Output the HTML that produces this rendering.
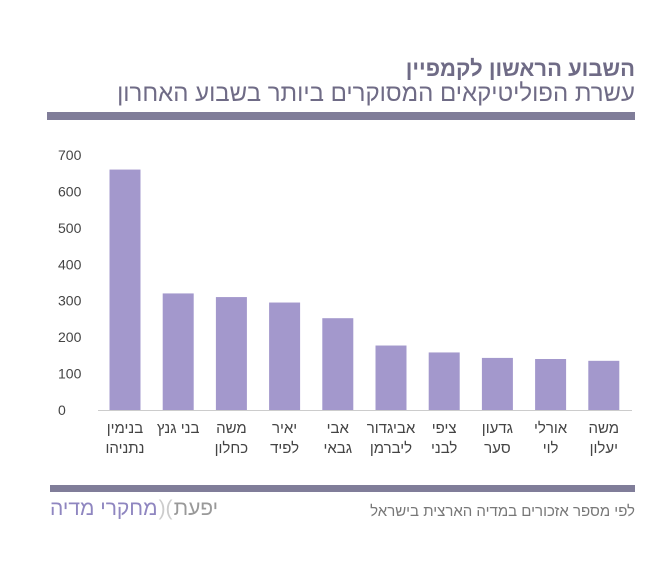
<!DOCTYPE html>
<html><head><meta charset="utf-8"><style>
body{margin:0;background:#fff;width:672px;height:567px;overflow:hidden;font-family:"Liberation Sans","Noto Sans CJK SC",sans-serif;}
.abs{position:absolute;}
</style></head><body>
<div class="abs" style="right:37px;top:56px;font-size:22px;font-weight:bold;color:#6f6b86;direction:rtl;">השבוע הראשון לקמפיין</div>
<div class="abs" style="right:37px;top:80px;font-size:24px;color:#6f6b86;direction:rtl;">עשרת הפוליטיקאים המסוקרים ביותר בשבוע האחרון</div>
<div class="abs" style="left:47px;top:112px;width:588px;height:8px;background:#807d99;"></div>
<svg class="abs" style="left:0;top:0" width="672" height="567">
<g id="g"></g></svg>
<div class="abs" style="left:50px;top:485px;width:585px;height:7px;background:#807d99;"></div>
<div class="abs" style="right:37px;top:503px;font-size:15px;color:#777;direction:rtl;">לפי מספר אזכורים במדיה הארצית בישראל</div>
<div class="abs" style="left:50px;top:497px;font-size:21px;display:flex;direction:ltr;white-space:nowrap;"><span style="color:#8f86c0;direction:rtl">מחקרי מדיה</span><span style="color:#ccc;margin:0 1px">)(</span><span style="color:#999;direction:rtl">יפעת</span></div>
<script>
const categories=[["בנימין","נתניהו"],["בני גנץ",""],["משה","כחלון"],["יאיר","לפיד"],["אבי","גבאי"],["אביגדור","ליברמן"],["ציפי","לבני"],["גדעון","סער"],["אורלי","לוי"],["משה","יעלון"]];
const values=[660,320,310,295,252,177,158,143,140,135];
const ticks=[0,100,200,300,400,500,600,700];
const NS="http://www.w3.org/2000/svg",g=document.getElementById('g');
const y=v=>410-v*(255/700);
const x=i=>125+i*53.2;
function mk(t,a){const e=document.createElementNS(NS,t);for(const k in a)e.setAttribute(k,a[k]);g.appendChild(e);return e;}
ticks.forEach(t=>{const e=mk('text',{x:58,y:y(t)+5,'text-anchor':'start','font-size':14,fill:'#444'});e.textContent=t;

});
const ax=mk('line',{x1:98,x2:632,y1:410.5,y2:410.5,stroke:'#ccc'});


values.forEach((v,i)=>{const r=mk('rect',{x:x(i)-15.5,y:y(v),width:31,height:410-y(v),fill:'#a398cc'});


categories[i].forEach((l,j)=>{if(!l)return;const e=mk('text',{x:x(i),y:433+j*20,'text-anchor':'middle','font-size':15,fill:'#444',direction:'rtl'});e.textContent=l;

});});
</script>
</body></html>
